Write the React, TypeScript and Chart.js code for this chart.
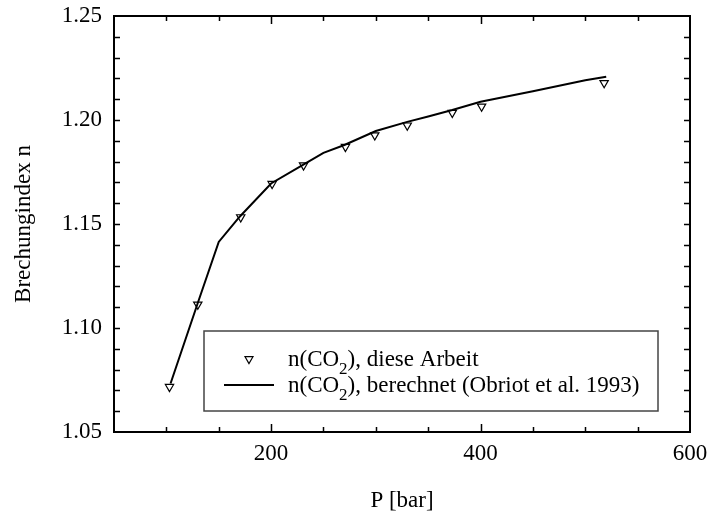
import React, { useEffect, useRef } from "react";
import { Chart, registerables } from "chart.js";

Chart.register(...registerables);

// Measured data (diese Arbeit)
const pressureMeasured = [103, 130, 171, 201, 231, 271, 299, 330, 373, 401, 518];
const indexMeasured = [1.0717, 1.1113, 1.1533, 1.1693, 1.1782, 1.1871, 1.1927, 1.1974, 1.2035, 1.2065, 1.2178];

// Calculated curve (Obriot et al. 1993)
const pressureCalc = [104, 130, 150, 170, 200, 230, 250, 270, 300, 330, 350, 373, 400, 450, 500, 520];
const indexCalc = [1.0733, 1.112, 1.1414, 1.1535, 1.1695, 1.1783, 1.1842, 1.188, 1.1947, 1.1991, 1.2017, 1.2048, 1.2088, 1.2138, 1.2191, 1.2208];

// Axis ticks
const xTickLabels = [200, 400, 600];
const yTickLabels = [1.05, 1.1, 1.15, 1.2, 1.25];
const xMinorTicks = [100, 150, 200, 250, 300, 350, 400, 450, 500, 550];
const xMajorTicks = [200, 400];
const yMinorTicks = [1.06, 1.07, 1.08, 1.09, 1.1, 1.11, 1.12, 1.13, 1.14, 1.15, 1.16, 1.17, 1.18, 1.19, 1.2, 1.21, 1.22, 1.23, 1.24];

const legendLabels = ["diese Arbeit", "berechnet (Obriot et al. 1993)"];

const FONT = '"Liberation Serif", "Times New Roman", Times, serif';

function drawTriangleDown(ctx: CanvasRenderingContext2D, x: number, y: number, r: number) {
  const s = Math.sin(Math.PI / 3) * r;
  ctx.beginPath();
  ctx.moveTo(x, y + r);
  ctx.lineTo(x - s, y - r / 2);
  ctx.lineTo(x + s, y - r / 2);
  ctx.closePath();
  ctx.stroke();
}

export default function App() {
  const ref = useRef<HTMLCanvasElement>(null);

  useEffect(() => {
    const canvas = ref.current;
    if (!canvas) return;

    const framePlugin = {
      id: "frameAndLegend",
      afterDatasetsDraw(chart: any) {
        const ctx: CanvasRenderingContext2D = chart.ctx;
        const { left, right, top, bottom } = chart.chartArea;
        const xs = chart.scales.x;
        const ys = chart.scales.y;
        ctx.save();
        ctx.strokeStyle = "#000";
        ctx.lineWidth = 2;
        ctx.strokeRect(left, top, right - left, bottom - top);

        ctx.lineWidth = 1.5;
        ctx.beginPath();
        for (const v of xMinorTicks) {
          const px = Math.round(xs.getPixelForValue(v)) + 0.5;
          const len = xMajorTicks.includes(v) ? 8 : 5;
          ctx.moveTo(px, bottom);
          ctx.lineTo(px, bottom - len);
          ctx.moveTo(px, top);
          ctx.lineTo(px, top + len);
        }
        for (const v of yMinorTicks) {
          const py = Math.round(ys.getPixelForValue(v)) + 0.5;
          ctx.moveTo(left, py);
          ctx.lineTo(left + 6, py);
          ctx.moveTo(right, py);
          ctx.lineTo(right - 6, py);
        }
        ctx.stroke();

        // Legend
        const lx = left + 90;
        const ly = top + 315;
        const lw = 454;
        const lh = 80;
        ctx.fillStyle = "#fff";
        ctx.fillRect(lx, ly, lw, lh);
        ctx.strokeStyle = "#444";
        ctx.lineWidth = 1.5;
        ctx.strokeRect(lx, ly, lw, lh);

        ctx.strokeStyle = "#000";
        ctx.lineWidth = 1.2;
        drawTriangleDown(ctx, lx + 45, ly + 28, 4.6);
        ctx.lineWidth = 2;
        ctx.beginPath();
        ctx.moveTo(lx + 20, ly + 54);
        ctx.lineTo(lx + 70, ly + 54);
        ctx.stroke();

        ctx.fillStyle = "#000";
        ctx.textBaseline = "alphabetic";
        ctx.textAlign = "left";
        const rows = [ly + 35, ly + 61];
        rows.forEach((by, i) => {
          let x = lx + 84;
          ctx.font = `23px ${FONT}`;
          ctx.fillText("n(CO", x, by);
          x += ctx.measureText("n(CO").width;
          ctx.font = `17px ${FONT}`;
          ctx.fillText("2", x, by + 8);
          x += ctx.measureText("2").width;
          ctx.font = `23px ${FONT}`;
          ctx.fillText("), " + legendLabels[i], x, by);
        });
        ctx.restore();
      },
    };

    const tickFont = { family: FONT, size: 23 };

    const chart = new Chart(canvas, {
      type: "scatter",
      data: {
        datasets: [
          {
            label: "n(CO2), diese Arbeit",
            data: pressureMeasured.map((p, i) => ({ x: p, y: indexMeasured[i] })),
            showLine: false,
            pointStyle: "triangle",
            rotation: 180,
            pointRadius: 4.8,
            pointHoverRadius: 4.8,
            borderColor: "#000",
            pointBorderColor: "#000",
            pointBackgroundColor: "rgba(0,0,0,0)",
            backgroundColor: "rgba(0,0,0,0)",
            borderWidth: 1.2,
            order: 0,
          },
          {
            label: "n(CO2), berechnet (Obriot et al. 1993)",
            data: pressureCalc.map((p, i) => ({ x: p, y: indexCalc[i] })),
            showLine: true,
            borderColor: "#000",
            borderWidth: 2,
            pointRadius: 0,
            pointHoverRadius: 0,
            tension: 0,
            fill: false,
            order: 1,
          },
        ],
      },
      options: {
        responsive: false,
        animation: false,
        events: [],
        layout: { padding: { top: 16, right: 18, left: 0, bottom: 0 } },
        plugins: {
          legend: { display: false },
          tooltip: { enabled: false },
        },
        scales: {
          x: {
            type: "linear",
            min: 50,
            max: 600,
            grid: { display: false, drawTicks: false },
            border: { display: false },
            afterBuildTicks: (s: any) => {
              s.ticks = xTickLabels.map((v) => ({ value: v }));
            },
            afterFit: (s: any) => {
              s.height = 83;
              s.paddingLeft = 0;
              s.paddingRight = 0;
            },
            ticks: {
              font: tickFont,
              color: "#000",
              padding: 8,
              maxRotation: 0,
              autoSkip: false,
              callback: (v: any) => String(v),
            },
            title: {
              display: true,
              text: "P [bar]",
              font: tickFont,
              color: "#000",
              padding: { top: 0, bottom: 0 },
            },
          },
          y: {
            type: "linear",
            min: 1.05,
            max: 1.25,
            grid: { display: false, drawTicks: false },
            border: { display: false },
            afterBuildTicks: (s: any) => {
              s.ticks = yTickLabels.map((v) => ({ value: v }));
            },
            afterFit: (s: any) => {
              s.width = 114;
              s.paddingTop = 0;
              s.paddingBottom = 0;
            },
            ticks: {
              font: tickFont,
              color: "#000",
              padding: 12,
              autoSkip: false,
              callback: (v: any) => Number(v).toFixed(2),
            },
            title: {
              display: true,
              text: "Brechungindex n",
              font: tickFont,
              color: "#000",
              padding: { top: 10, bottom: 0 },
            },
          },
        },
      },
      plugins: [framePlugin],
    } as any);

    return () => chart.destroy();
  }, []);

  return (
    <div style={{ position: "fixed", left: 0, top: 0, width: 708, height: 515, background: "#fff" }}>
      <canvas ref={ref} width={708} height={515} style={{ display: "block" }} />
    </div>
  );
}
